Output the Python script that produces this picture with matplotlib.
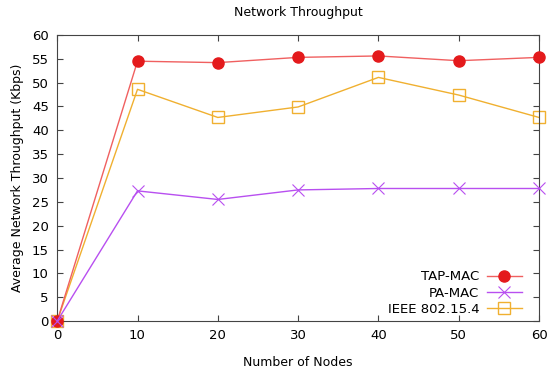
import matplotlib
matplotlib.use('Agg')
import matplotlib.pyplot as plt

nodes = [0, 10, 20, 30, 40, 50, 60]
tap_mac = [0, 54.5, 54.2, 55.3, 55.6, 54.6, 55.3]
pa_mac = [0, 27.3, 25.5, 27.5, 27.8, 27.8, 27.8]
ieee = [0, 48.6, 42.7, 44.9, 51.1, 47.4, 42.7]

plt.rcParams['font.family'] = 'DejaVu Sans'

fig, ax = plt.subplots(figsize=(5.5, 3.72), dpi=100)
fig.subplots_adjust(left=0.104, right=0.98, top=0.906, bottom=0.137)

ax.plot(nodes, tap_mac, color='#f06060', lw=1, marker='o', ms=8,
        mfc='#e41a1c', mec='#e41a1c', label='TAP-MAC', clip_on=False, zorder=3)
ax.plot(nodes, pa_mac, color='#b84ff0', lw=1, marker='x', ms=9, mew=0.8,
        label='PA-MAC', clip_on=False, zorder=3)
ax.plot(nodes, ieee, color='#f0b030', lw=1, marker='s', ms=8, mfc='none',
        mew=1, label='IEEE 802.15.4', clip_on=False, zorder=2)

ax.set_xlim(0, 60)
ax.set_ylim(0, 60)
ax.set_xticks(range(0, 61, 10))
ax.set_yticks(range(0, 61, 5))
ax.tick_params(direction='in', top=True, right=True, labelsize=9.5,
               length=4, width=0.8, color='#444444', pad=6)
for s in ax.spines.values():
    s.set_color('#444444')

ax.set_title('Network Throughput', fontsize=9, pad=14)
ax.set_xlabel('Number of Nodes', fontsize=9, labelpad=10)
ax.set_ylabel('Average Network Throughput (Kbps)', fontsize=9, labelpad=6)

ax.legend(loc='lower right', bbox_to_anchor=(0.983, -0.015), frameon=False,
          markerfirst=False, fontsize=9.5, handlelength=2.6,
          labelspacing=0.25, borderaxespad=0.3, handletextpad=0.6)

fig.savefig('out.png', dpi=100)
